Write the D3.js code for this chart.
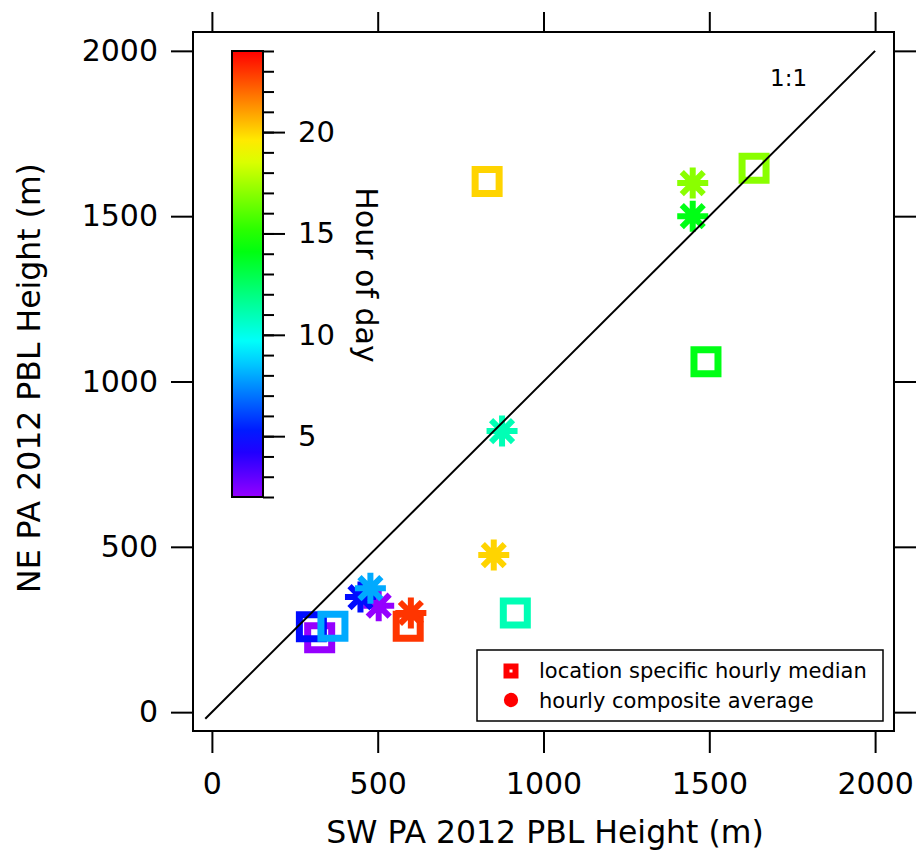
<!DOCTYPE html>
<html>
<head>
<meta charset="utf-8">
<script src="https://cdn.jsdelivr.net/npm/d3@7"></script>
<style>
  body { margin: 0; background: #fff; }
  text { font-family: "DejaVu Sans", sans-serif; fill: #000; }
</style>
</head>
<body>
<svg id="chart" width="920" height="850"></svg>
<script>
// Hour of day for each pair of points
const hours = [2, 5, 8, 11, 14, 17, 20, 23];
// Location specific hourly median PBL height (m)
const medianSW = [325, 300, 365, 915, 1490, 1635, 830, 592];
const medianNE = [225, 258, 260, 300, 1060, 1645, 1605, 260];
// Hourly composite average PBL height (m)
const compositeSW = [503, 448, 478, 875, 1450, 1450, 850, 600];
const compositeNE = [322, 348, 375, 850, 1500, 1600, 475, 300];
// Axis ticks
const axisTicks = [0, 500, 1000, 1500, 2000];
const colorTicks = [5, 10, 15, 20];
const colorRange = [2, 24];
const oneToOne = [-20, 2000];

const svg = d3.select("#chart");
const frame = { left: 193, top: 32, right: 894, bottom: 731 };

const x = d3.scaleLinear().domain([-57, 2057]).range([frame.left, frame.right]);
const y = d3.scaleLinear().domain([-57, 2057]).range([frame.bottom, frame.top]);

// Rainbow colour table: red late in the day, violet early
const hue = d3.scaleLinear().domain(colorRange).range([275, 0]);
const color = h => d3.hsl(hue(h), 1, 0.5).toString();

const fmt = d3.format("d");

// Axes (ticks outside the frame on all four sides)
const axBottom = svg.append("g").attr("transform", `translate(0,${frame.bottom})`)
  .call(d3.axisBottom(x).tickValues(axisTicks).tickFormat(fmt).tickSize(22).tickPadding(20).tickSizeOuter(0));
const axLeft = svg.append("g").attr("transform", `translate(${frame.left},0)`)
  .call(d3.axisLeft(y).tickValues(axisTicks).tickFormat(fmt).tickSize(22).tickPadding(13).tickSizeOuter(0));
const axTop = svg.append("g").attr("transform", `translate(0,${frame.top})`)
  .call(d3.axisTop(x).tickValues(axisTicks).tickSize(20).tickFormat("").tickSizeOuter(0));
const axRight = svg.append("g").attr("transform", `translate(${frame.right},0)`)
  .call(d3.axisRight(y).tickValues(axisTicks).tickSize(22).tickFormat("").tickSizeOuter(0));
[axBottom, axLeft, axTop, axRight].forEach(g => {
  g.select(".domain").remove();
  g.selectAll(".tick line").attr("stroke", "#000").attr("stroke-width", 2);
  g.selectAll(".tick text").attr("font-size", 30).attr("font-family", "DejaVu Sans, sans-serif").attr("fill", "#000");
});

// Plot frame
svg.append("rect")
  .attr("x", frame.left).attr("y", frame.top)
  .attr("width", frame.right - frame.left).attr("height", frame.bottom - frame.top)
  .attr("fill", "none").attr("stroke", "#000").attr("stroke-width", 2);

// Axis titles
svg.append("text").attr("x", 545).attr("y", 843).attr("text-anchor", "middle")
  .attr("font-size", 31.5).text("SW PA 2012 PBL Height (m)");
svg.append("text").attr("transform", "translate(40,378) rotate(-90)").attr("text-anchor", "middle")
  .attr("font-size", 31.5).text("NE PA 2012 PBL Height (m)");

// Eight-armed asterisk marker
const asterisk = {
  draw(ctx, size) {
    const r = Math.sqrt(size) / 2;
    for (let k = 0; k < 4; k++) {
      const a = k * Math.PI / 4;
      const dx = r * Math.cos(a), dy = r * Math.sin(a);
      ctx.moveTo(-dx, -dy);
      ctx.lineTo(dx, dy);
    }
  }
};

const medianPts = hours.map((h, i) => ({ h, sw: medianSW[i], ne: medianNE[i] }));
const compositePts = hours.map((h, i) => ({ h, sw: compositeSW[i], ne: compositeNE[i] }));

svg.append("g").selectAll("path").data(medianPts).join("path")
  .attr("transform", d => `translate(${x(d.sw)},${y(d.ne)})`)
  .attr("d", d3.symbol().type(d3.symbolSquare).size(24 * 24))
  .attr("fill", "none").attr("stroke", d => color(d.h)).attr("stroke-width", 7);

svg.append("g").selectAll("path").data(compositePts).join("path")
  .attr("transform", d => `translate(${x(d.sw)},${y(d.ne)})`)
  .attr("d", d3.symbol().type(asterisk).size(31 * 31))
  .attr("fill", "none").attr("stroke", d => color(d.h)).attr("stroke-width", 6);

// 1:1 line
svg.append("line")
  .attr("x1", x(oneToOne[0])).attr("y1", y(oneToOne[0]))
  .attr("x2", x(oneToOne[1])).attr("y2", y(oneToOne[1]))
  .attr("stroke", "#000").attr("stroke-width", 2);
svg.append("text").attr("x", 770).attr("y", 86).attr("font-size", 23).text("1:1");

// Colour bar
const cy = d3.scaleLinear().domain(colorRange).range([497, 51]);
const bar = { x: 232, w: 31 };
const grad = svg.append("defs").append("linearGradient").attr("id", "hourGrad")
  .attr("x1", 0).attr("y1", 1).attr("x2", 0).attr("y2", 0);
d3.range(0, 1.0001, 0.05).forEach(t => {
  const h = colorRange[0] + t * (colorRange[1] - colorRange[0]);
  grad.append("stop").attr("offset", t).attr("stop-color", color(h));
});
svg.append("rect").attr("x", bar.x).attr("y", cy(colorRange[1]))
  .attr("width", bar.w).attr("height", cy(colorRange[0]) - cy(colorRange[1]))
  .attr("fill", "url(#hourGrad)").attr("stroke", "#000").attr("stroke-width", 2);
const barMinor = svg.append("g").attr("transform", `translate(${bar.x + bar.w},0)`)
  .call(d3.axisRight(cy).tickValues(d3.range(colorRange[0], colorRange[1] + 1)).tickSize(11).tickFormat("").tickSizeOuter(0));
const barMajor = svg.append("g").attr("transform", `translate(${bar.x + bar.w},0)`)
  .call(d3.axisRight(cy).tickValues(colorTicks).tickFormat(fmt).tickSize(22).tickPadding(13).tickSizeOuter(0));
[barMinor, barMajor].forEach(g => {
  g.select(".domain").remove();
  g.selectAll(".tick line").attr("stroke", "#000").attr("stroke-width", 2);
  g.selectAll(".tick text").attr("font-size", 29).attr("font-family", "DejaVu Sans, sans-serif").attr("fill", "#000");
});
svg.append("text").attr("transform", "translate(356,275) rotate(90)").attr("text-anchor", "middle")
  .attr("font-size", 30).text("Hour of day");

// Legend
const legend = svg.append("g");
legend.append("rect").attr("x", 477).attr("y", 650).attr("width", 406).attr("height", 71)
  .attr("fill", "#fff").attr("stroke", "#000").attr("stroke-width", 1.5);
legend.append("path").attr("transform", "translate(511,671)")
  .attr("d", d3.symbol().type(d3.symbolSquare).size(9 * 9))
  .attr("fill", "none").attr("stroke", "#ff0000").attr("stroke-width", 6);
legend.append("path").attr("transform", "translate(511,700)")
  .attr("d", d3.symbol().type(d3.symbolCircle).size(160))
  .attr("fill", "#ff0000");
legend.append("text").attr("x", 539).attr("y", 678).attr("font-size", 21).text("location specific hourly median");
legend.append("text").attr("x", 539).attr("y", 708).attr("font-size", 21).text("hourly composite average");
</script>
</body>
</html>
